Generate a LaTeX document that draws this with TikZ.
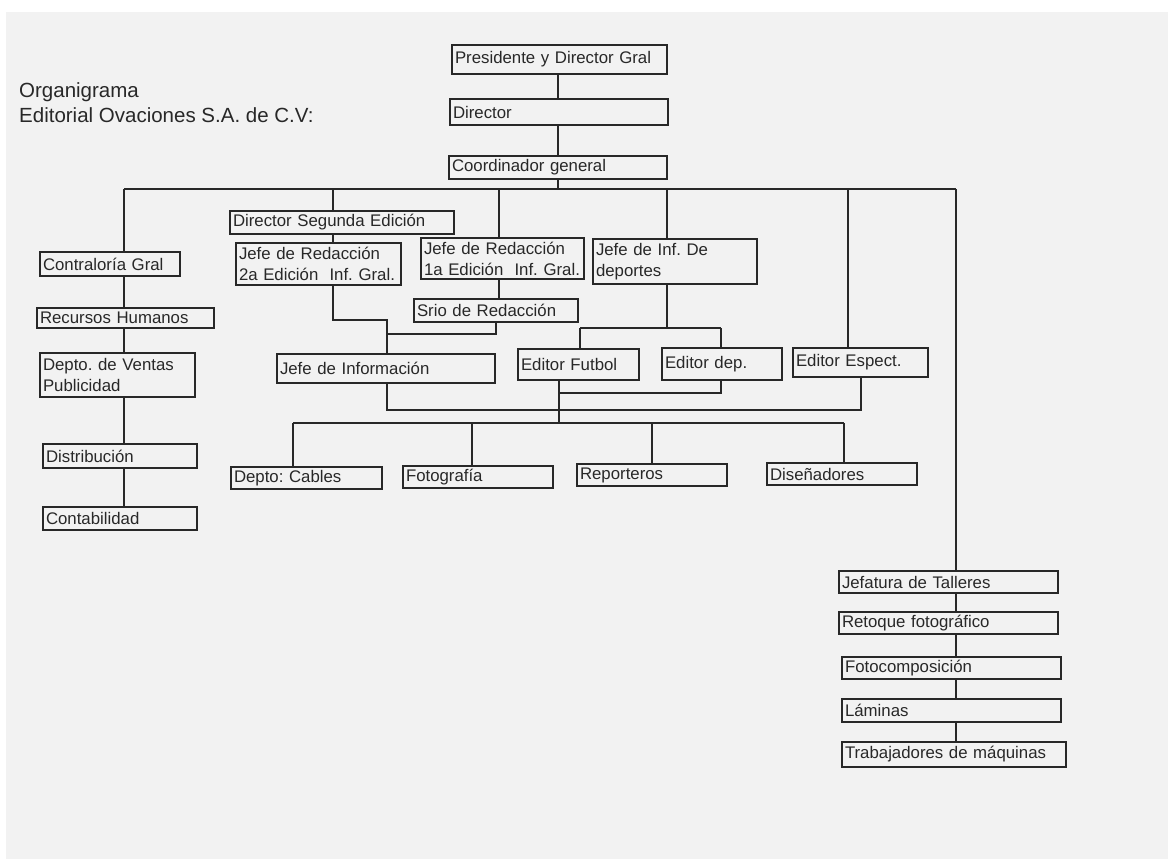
\documentclass[tikz,border=0pt]{standalone}
\usepackage{fontspec}
\setmainfont{Liberation Sans}
\definecolor{panel}{RGB}{242,242,242}
\definecolor{ink}{RGB}{40,40,40}
\newcommand{\orgbox}[6]{%
  \pgfmathsetmacro{\obw}{#4-#2}%
  \pgfmathsetmacro{\obh}{#5-#3}%
  \pgfmathsetmacro{\obt}{#4-#2-6}%
  \node[obox, minimum width=\obw pt, minimum height=\obh pt, text width=\obt pt] (#1) at (#2,#3) {#6};}
\begin{document}
\begin{tikzpicture}[x=1pt,y=-1pt,
  obox/.style={draw=ink, line width=1.2pt, rectangle, anchor=north west, inner xsep=3pt, inner ysep=0pt,
    outer sep=0pt, align=left, text=ink, font=\fontsize{16.8}{21}\selectfont\frenchspacing},
  conn/.style={draw=ink, line width=1.2pt},
  titlet/.style={anchor=base west, inner sep=0pt, text=ink, font=\fontsize{20.5}{25}\selectfont\frenchspacing}]
\useasboundingbox (0,0) rectangle (1168,859);
\fill[white] (0,0) rectangle (1168,859);
\fill[panel] (6,12) rectangle (1168,859);

\node[titlet] (t1) at (19,97) {Organigrama};
\node[titlet] (t2) at (19,122) {Editorial Ovaciones S.A. de C.V:};

\orgbox{pres}{452}{45}{667}{74}{Presidente y Director Gral}
\orgbox{dir}{450}{99}{668}{125}{Director}
\orgbox{coord}{449}{156}{667}{179}{Coordinador general}
\orgbox{contra}{40}{252}{180}{276}{Contraloría Gral}
\orgbox{rrhh}{37}{308}{214}{328}{Recursos Humanos}
\orgbox{ventas}{40}{353}{195}{397}{Depto. de Ventas\\Publicidad}
\orgbox{distr}{43}{444}{197}{468}{Distribución}
\orgbox{conta}{43}{507}{197}{530}{Contabilidad}
\orgbox{dirseg}{230}{211}{454}{234}{Director Segunda Edición}
\orgbox{jr2}{236}{243}{401}{285}{Jefe de Redacción\\2a Edición\ \ Inf. Gral.}
\orgbox{jr1}{421}{238}{584}{279}{Jefe de Redacción\\1a Edición\ \ Inf. Gral.}
\orgbox{srio}{414}{299}{578}{322}{Srio de Redacción}
\orgbox{jinfo}{277}{354}{495}{383}{Jefe de Información}
\orgbox{jdep}{593}{239}{757}{284}{Jefe de Inf. De\\deportes}
\orgbox{efut}{518}{349}{639}{380}{Editor Futbol}
\orgbox{edep}{662}{348}{782}{380}{Editor dep.}
\orgbox{eesp}{793}{348}{928}{377}{Editor Espect.}
\orgbox{cables}{231}{467}{382}{489}{Depto: Cables}
\orgbox{foto}{403}{466}{553}{488}{Fotografía}
\orgbox{repo}{577}{464}{727}{486}{Reporteros}
\orgbox{dise}{767}{463}{917}{485}{Diseñadores}
\orgbox{jtall}{839}{571}{1058}{593}{Jefatura de Talleres}
\orgbox{retoq}{839}{612}{1058}{634}{Retoque fotográfico}
\orgbox{fotoc}{842}{657}{1061}{679}{Fotocomposición}
\orgbox{lamin}{842}{699}{1061}{722}{Láminas}
\orgbox{trab}{842}{742}{1066}{767}{Trabajadores de máquinas}

% top chain
\coordinate (bus) at (558,189);
\draw[conn] (pres.south -| bus) -- (dir.north -| bus);
\draw[conn] (dir.south -| bus) -- (coord.north -| bus);
\draw[conn] (coord.south -| bus) -- (bus);
% main bus
\coordinate (busL) at (124,189);
\coordinate (busR) at (956,189);
\coordinate (c2) at (333,189);
\coordinate (c3) at (499,189);
\coordinate (c4) at (667,189);
\coordinate (c5) at (848,189);
\draw[conn] (busL) -- (busR);
% left column
\draw[conn] (busL) -- (busL |- contra.north);
\draw[conn] (contra.south -| busL) -- (rrhh.north -| busL);
\draw[conn] (rrhh.south -| busL) -- (ventas.north -| busL);
\draw[conn] (ventas.south -| busL) -- (distr.north -| busL);
\draw[conn] (distr.south -| busL) -- (conta.north -| busL);
% second edition
\draw[conn] (c2) -- (c2 |- dirseg.north);
\draw[conn] (dirseg.south -| c2) -- (jr2.north -| c2);
\coordinate (j2b) at (387,320);
\draw[conn] (jr2.south -| c2) |- (j2b) -- (j2b |- jinfo.north);
% first edition
\draw[conn] (c3) -- (c3 |- jr1.north);
\draw[conn] (jr1.south -| c3) -- (srio.north -| c3);
\coordinate (sr) at (496,334);
\draw[conn] (sr |- srio.south) -- (sr) -- (sr -| j2b);
% sports
\draw[conn] (c4) -- (c4 |- jdep.north);
\coordinate (djL) at (580,328);
\coordinate (djR) at (721,328);
\draw[conn] (jdep.south -| c4) -- (c4 |- djL);
\draw[conn] (djL) -- (djR);
\draw[conn] (djL) -- (djL |- efut.north);
\draw[conn] (djR) -- (djR |- edep.north);
% espectaculos
\draw[conn] (c5) -- (c5 |- eesp.north);
% lower links
\coordinate (ji) at (387,410);
\coordinate (ee) at (861,410);
\draw[conn] (ji |- jinfo.south) -- (ji) -- (ee) -- (ee |- eesp.south);
\coordinate (lb) at (559,423);
\draw[conn] (lb |- efut.south) -- (lb);
\coordinate (ed) at (721,393);
\draw[conn] (ed |- edep.south) -- (ed) -- (ed -| lb);
% lower bus
\coordinate (lbL) at (293,423);
\coordinate (lbF) at (472,423);
\coordinate (lbP) at (652,423);
\coordinate (lbR) at (844,423);
\draw[conn] (lbL) -- (lbR);
\draw[conn] (lbL) -- (lbL |- cables.north);
\draw[conn] (lbF) -- (lbF |- foto.north);
\draw[conn] (lbP) -- (lbP |- repo.north);
\draw[conn] (lbR) -- (lbR |- dise.north);
% right column
\draw[conn] (busR) -- (busR |- jtall.north);
\draw[conn] (jtall.south -| busR) -- (retoq.north -| busR);
\draw[conn] (retoq.south -| busR) -- (fotoc.north -| busR);
\draw[conn] (fotoc.south -| busR) -- (lamin.north -| busR);
\draw[conn] (lamin.south -| busR) -- (trab.north -| busR);
\end{tikzpicture}
\end{document}
